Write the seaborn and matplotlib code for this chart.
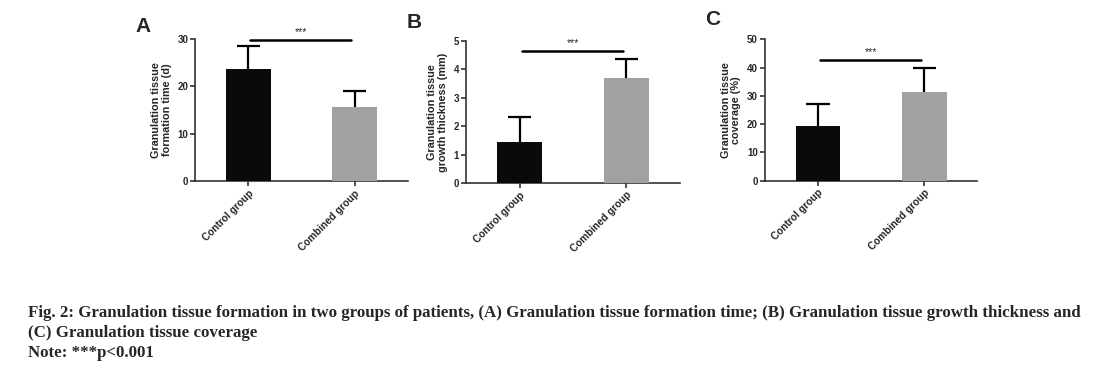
import numpy as np
import pandas as pd
import matplotlib.pyplot as plt
import seaborn as sns

# ---------------------------------------------------------------
# data (mean and upper SD for each group)
# ---------------------------------------------------------------
groups = ['Control group', 'Combined group']

time_mean = [23.6, 15.6]
time_sd = [4.9, 3.5]

thick_mean = [1.44, 3.71]
thick_sd = [0.89, 0.64]

cover_mean = [19.4, 31.3]
cover_sd = [7.7, 8.4]

panel_letters = ['A', 'B', 'C']
ylabels = ['Granulation tissue\nformation time (d)',
           'Granulation tissue\ngrowth thickness (mm)',
           'Granulation tissue\ncoverage (%)']
ylims = [30, 5, 50]
yticks = [[0, 10, 20, 30], [0, 1, 2, 3, 4, 5], [0, 10, 20, 30, 40, 50]]
sig_y = [29.8, 4.65, 42.7]
bar_colors = ['#0a0a0a', '#a0a0a5']

caption = ("Fig. 2: Granulation tissue formation in two groups of patients, "
           "(A) Granulation tissue formation time; (B) Granulation tissue growth thickness and\n"
           "(C) Granulation tissue coverage\n"
           "Note: ***p<0.001")

sns.set_style('white')
plt.rcParams['font.family'] = ['Liberation Sans', 'DejaVu Sans']

fig = plt.figure(figsize=(11.02, 3.75), dpi=100)

# axes boxes in figure fractions (left, bottom, width, height)
boxes = [(0.177, 0.517, 0.193, 0.379),
         (0.423, 0.512, 0.194, 0.379),
         (0.694, 0.518, 0.193, 0.377)]
letter_y = [1.02, 1.06, 1.07]

all_means = [time_mean, thick_mean, cover_mean]
all_sds = [time_sd, thick_sd, cover_sd]

for i in range(3):
    ax = fig.add_axes(boxes[i])
    df = pd.DataFrame({'group': groups, 'value': all_means[i]})
    sns.barplot(data=df, x='group', y='value', hue='group',
                palette=bar_colors, width=0.42, legend=False,
                ax=ax, zorder=3, edgecolor='none')

    # one-sided (upper) error bars, GraphPad style
    pos = np.arange(len(groups))
    tops = np.array(all_means[i]) + np.array(all_sds[i])
    ax.vlines(pos, all_means[i], tops, color='black', lw=1.6, zorder=2)
    ax.hlines(tops, pos - 0.11, pos + 0.11, color='black', lw=1.6, zorder=2)

    ax.set_xlim(-0.5, 1.5)
    ax.set_ylim(0, ylims[i])
    ax.set_yticks(yticks[i])
    ax.set_yticklabels([str(t) for t in yticks[i]], fontsize=7, fontweight='bold')
    ax.set_xticks(pos)
    ax.set_xticklabels(groups, rotation=45, ha='right', rotation_mode='anchor',
                       fontsize=7.3, fontweight='bold')
    ax.set_xlabel('')
    ax.set_ylabel(ylabels[i], fontsize=7.8, fontweight='bold', labelpad=4,
                  linespacing=1.1)

    for s in ['top', 'right']:
        ax.spines[s].set_visible(False)
    for s in ['left', 'bottom']:
        ax.spines[s].set_linewidth(1.2)
        ax.spines[s].set_color('#333333')
    ax.tick_params(axis='both', direction='out', length=3.5, width=1.2,
                   color='#333333', pad=1.5, left=True, bottom=True)

    # significance bar
    ax.plot([0.02, 0.97], [sig_y[i], sig_y[i]], color='black', lw=1.8,
            clip_on=False, zorder=4)
    ax.text(0.5, sig_y[i] + ylims[i] * 0.02, '***', ha='center', va='bottom',
            fontsize=7.5)

    ax.text(-0.28, letter_y[i], panel_letters[i], transform=ax.transAxes,
            fontsize=15, fontweight='bold', ha='left', va='bottom')

fig.text(0.0254, 0.187, caption, ha='left', va='top',
         fontsize=12.2, fontweight='bold', family=['Liberation Serif'],
         linespacing=1.33)

plt.savefig('out.png', dpi=100)
